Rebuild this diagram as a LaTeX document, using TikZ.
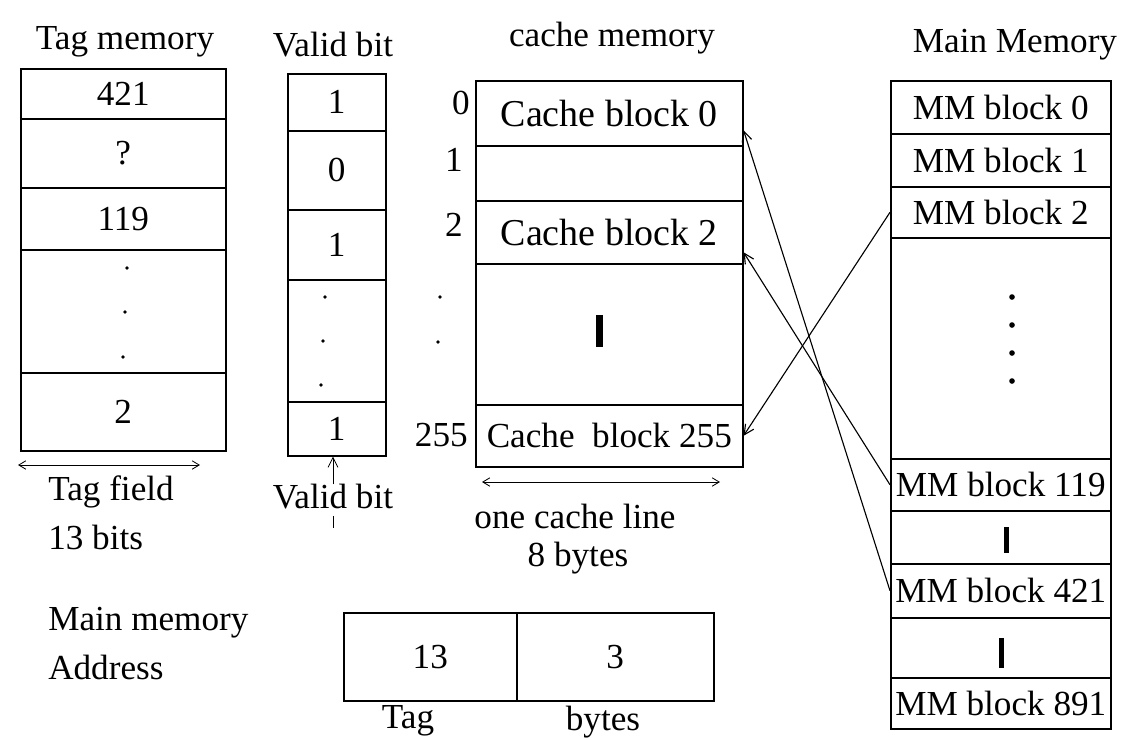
\documentclass[tikz,border=0pt]{standalone}
\usepackage{fontspec}
\setmainfont{Liberation Serif}
\usetikzlibrary{arrows.meta}
\newcommand{\pxu}{0.025cm}

\begin{document}
\begin{tikzpicture}[x=\pxu, y=-\pxu, >={Straight Barb[length=7pt,width=7pt]},
    cell/.style 2 args={draw, line width=1.1pt, anchor=north west, inner sep=0pt,
        minimum width=#1*\pxu, minimum height=#2*\pxu, font=\fontsize{25}{29}\selectfont},
    lbl/.style={font=\fontsize{25}{29}\selectfont, inner sep=0pt},
    cachetxt/.style={font=\fontsize{27}{31}\selectfont},
    link/.style={->, line width=0.8pt},
    dim/.style={{Straight Barb[length=5pt,width=6pt]}-{Straight Barb[length=5pt,width=6pt]}, line width=0.6pt}]
    \useasboundingbox (0,0) rectangle (1123,739);

    % Tag memory
    \node[lbl] (tagt) at (125,42) {Tag memory};
    \node[cell={205}{50}] (t1) at (20,68) {421};
    \node[cell={205}{69}] (t2) at (20,118) {?};
    \node[cell={205}{62}] (t3) at (20,187) {119};
    \node[cell={205}{123}] (t4) at (20,249) {};
    \node[cell={205}{78}] (t5) at (20,372) {2};
    \fill (127,268) circle (1.4pt);
    \fill (125,312) circle (1.4pt);
    \fill (123,357) circle (1.4pt);

    % Valid bit
    \node[lbl] (validt) at (333,45) {Valid bit};
    \node[cell={98}{57}] (v1) at (287,73) {1};
    \node[cell={98}{79}] (v2) at (287,130) {0};
    \node[cell={98}{70}] (v3) at (287,209) {1};
    \node[cell={98}{122}] (v4) at (287,279) {};
    \node[cell={98}{54}] (v5) at (287,401) {1};
    \fill (325,297) circle (1.4pt);
    \fill (323,341) circle (1.4pt);
    \fill (321,385) circle (1.4pt);

    % Line numbers
    \node[lbl, anchor=east] (idx0) at (470,103) {0};
    \node[lbl, anchor=east] (idx1) at (463,160) {1};
    \node[lbl, anchor=east] (idx2) at (463,225) {2};
    \fill (440,297) circle (1.4pt);
    \fill (438,342) circle (1.4pt);
    \node[lbl, anchor=east] (idx255) at (468,435) {255};

    % Cache memory
    \node[lbl] (cachet) at (612,38) {cache memory};
    \node[cell={267}{65}, cachetxt] (c0) at (475,80) {Cache block 0};
    \node[cell={267}{55}] (c1) at (475,145) {};
    \node[cell={267}{63}, cachetxt] (c2) at (475,200) {Cache block 2};
    \node[cell={267}{141}] (c3) at (475,263) {};
    \node[cell={267}{62}] (c255) at (475,404) {Cache\ \ block 255};
    \fill (596,315) rectangle (603,347);

    % Main memory
    \node[lbl] (mmt) at (1015,45) {Main Memory};
    \node[cell={220}{53}] (m0) at (890,80) {MM block 0};
    \node[cell={220}{53}] (m1) at (890,133) {MM block 1};
    \node[cell={220}{51}] (m2) at (890,186) {MM block 2};
    \node[cell={220}{221}] (m3) at (890,237) {};
    \node[cell={220}{52}] (m119) at (890,458) {MM block 119};
    \node[cell={220}{53}] (m4) at (890,510) {};
    \node[cell={220}{54}] (m421) at (890,563) {MM block 421};
    \node[cell={220}{60}] (m5) at (890,617) {};
    \node[cell={220}{51}] (m891) at (890,677) {MM block 891};
    \foreach \yy in {297,325,353,381}
        \fill (1012,\yy) circle (2pt);
    \fill (1004,527) rectangle (1009,553);
    \fill (999,638) rectangle (1004,668);

    % Mapping of blocks
    \draw[link] (m2.west) -- (c255.east);
    \draw[link] (m119.west) -- ([yshift=-20*\pxu]c2.east);
    \draw[link] (m421.west) -- ([yshift=-17*\pxu]c0.east);

    % Field widths
    \coordinate (tf1) at (18,465);
    \coordinate (tf2) at (200,465);
    \draw[dim] (tf1) -- (tf2);
    \node[lbl, anchor=west] (tagf) at (48,492) {Tag field};
    \node[lbl, anchor=west] (tagb) at (48,537) {13 bits};

    \node[lbl] (vlab) at (333,497) {Valid bit};
    \draw[->, line width=0.6pt] (vlab.north) -- (vlab.north |- v5.south);
    \draw[line width=0.6pt] (vlab.south) ++(0,6) -- ++(0,12);

    \coordinate (cl1) at (482,482);
    \coordinate (cl2) at (720,482);
    \draw[dim] (cl1) -- (cl2);
    \node[lbl] (cline) at (575,516) {one cache line};
    \node[lbl] (cbytes) at (578,558) {8 bytes};

    % Main memory address
    \node[lbl, anchor=west] (mma) at (48,623) {Main memory};
    \node[lbl, anchor=west] (mmb) at (48,667) {Address};
    \node[cell={173}{88}] (a1) at (343,612) {13};
    \node[cell={197}{88}] (a2) at (516,612) {3};
    \node[lbl] (atag) at (408,721) {Tag};
    \node[lbl] (abytes) at (603,722) {bytes};
\end{tikzpicture}
\end{document}
